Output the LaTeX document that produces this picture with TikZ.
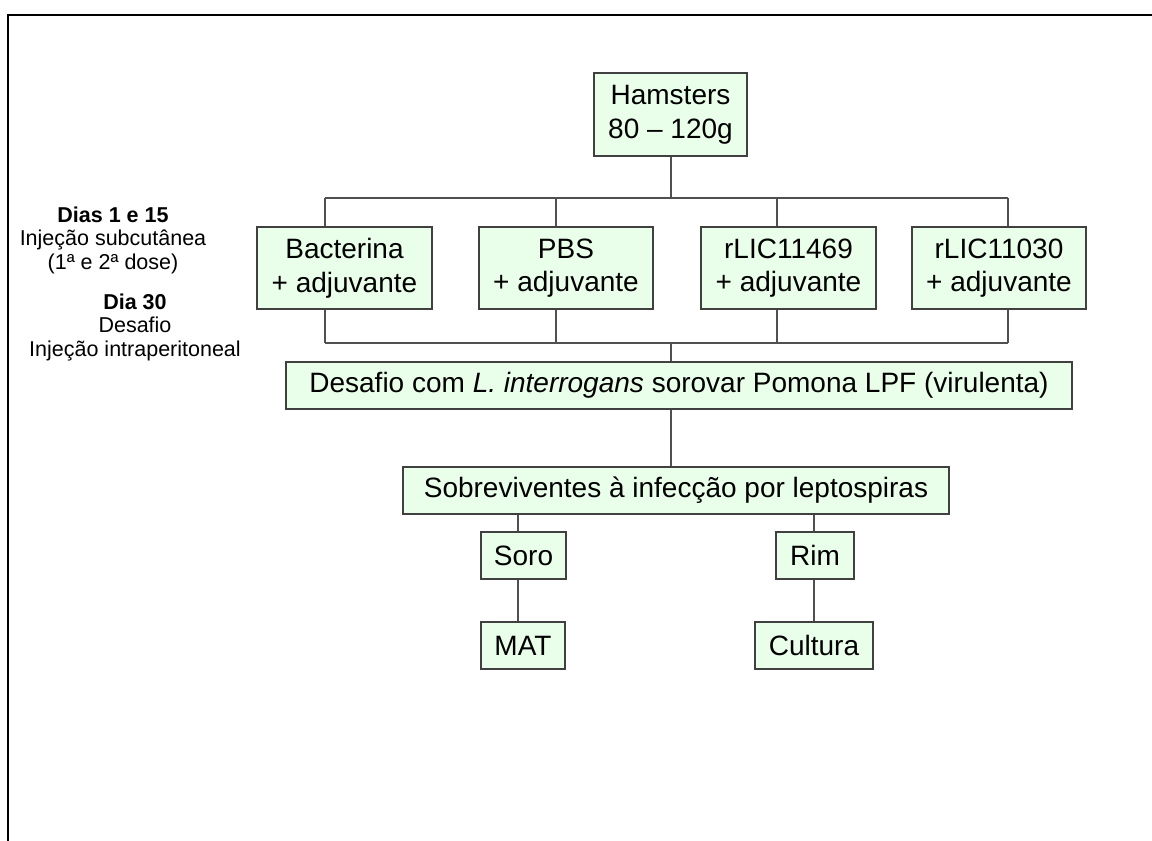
\documentclass[tikz,border=0pt]{standalone}
\usepackage{fontspec}
\setmainfont{Liberation Sans}
\begin{document}
\definecolor{boxfill}{RGB}{234,255,234}
\definecolor{boxline}{RGB}{64,64,64}
\definecolor{linkline}{RGB}{80,80,80}
\begin{tikzpicture}[x=1bp,y=-1bp,
  stage/.style={draw=boxline,line width=1.3bp,fill=boxfill,inner sep=0pt,
    align=center,font=\fontsize{28bp}{33.6bp}\selectfont},
  link/.style={draw=linkline,line width=1.3bp},
  daylabel/.style={align=center,inner sep=0pt,font=\fontsize{21.5bp}{23.5bp}\selectfont}]
\useasboundingbox (0,0) rectangle (1152,841);
% page frame (top and left edges)
\draw[line width=2.6bp,line cap=rect] (8,841) -- (8,15) -- (1152,15);

% boxes
\node[stage,minimum width=153bp,minimum height=83bp] (ham) at (670.5,114.5) {Hamsters\\80 -- 120g};
\node[stage,minimum width=175bp,minimum height=82bp] (bac) at (344.5,268) {Bacterina\\+ adjuvante};
\node[stage,minimum width=174bp,minimum height=82bp] (pbs) at (566,268) {PBS\\+ adjuvante};
\node[stage,minimum width=175bp,minimum height=82bp] (r469) at (788.5,268) {rLIC11469\\+ adjuvante};
\node[stage,minimum width=174bp,minimum height=82bp] (r030) at (999,268) {rLIC11030\\+ adjuvante};
\node[stage,minimum width=786bp,minimum height=47bp] (des) at (679,385.5) {Desafio com \textit{L. interrogans} sorovar Pomona LPF (virulenta)};
\node[stage,minimum width=546bp,minimum height=47bp] (sob) at (676,490.5) {Sobreviventes à infecção por leptospiras};
\node[stage,minimum width=85bp,minimum height=47bp] (soro) at (523.5,555.5) {Soro};
\node[stage,minimum width=78bp,minimum height=47bp] (rim) at (815,555.5) {Rim};
\node[stage,minimum width=84bp,minimum height=47bp] (mat) at (523,645.5) {MAT};
\node[stage,minimum width=118bp,minimum height=47bp] (cul) at (814,645.5) {Cultura};

% side labels
\node[daylabel] (d1) at (113,240) {\textbf{Dias 1 e 15}\\Injeção subcutânea\\(1ª e 2ª dose)};
\node[daylabel] (d30) at (135,327) {\textbf{Dia 30}\\Desafio\\Injeção intraperitoneal};

% bus points
\coordinate (t1) at (325,198);
\coordinate (t2) at (556,198);
\coordinate (t3) at (777,198);
\coordinate (t4) at (1008,198);
\coordinate (tm) at (671,198);
\coordinate (b1) at (325,343);
\coordinate (b2) at (556,343);
\coordinate (b3) at (777,343);
\coordinate (b4) at (1008,343);
\coordinate (bm) at (671,343);
\coordinate (cs) at (518,0);
\coordinate (cr) at (814,0);

% connectors
\draw[link] (ham.south -| tm) -- (tm);
\draw[link] (t1) -- (t4);
\draw[link] (t1) -- (t1 |- bac.north);
\draw[link] (t2) -- (t2 |- pbs.north);
\draw[link] (t3) -- (t3 |- r469.north);
\draw[link] (t4) -- (t4 |- r030.north);
\draw[link] (b1) -- (b1 |- bac.south);
\draw[link] (b2) -- (b2 |- pbs.south);
\draw[link] (b3) -- (b3 |- r469.south);
\draw[link] (b4) -- (b4 |- r030.south);
\draw[link] (b1) -- (b4);
\draw[link] (bm) -- (bm |- des.north);
\draw[link] (des.south -| bm) -- (sob.north -| bm);
\draw[link] (sob.south -| cs) -- (soro.north -| cs);
\draw[link] (soro.south -| cs) -- (mat.north -| cs);
\draw[link] (sob.south -| cr) -- (rim.north -| cr);
\draw[link] (rim.south -| cr) -- (cul.north -| cr);
\end{tikzpicture}
\end{document}
